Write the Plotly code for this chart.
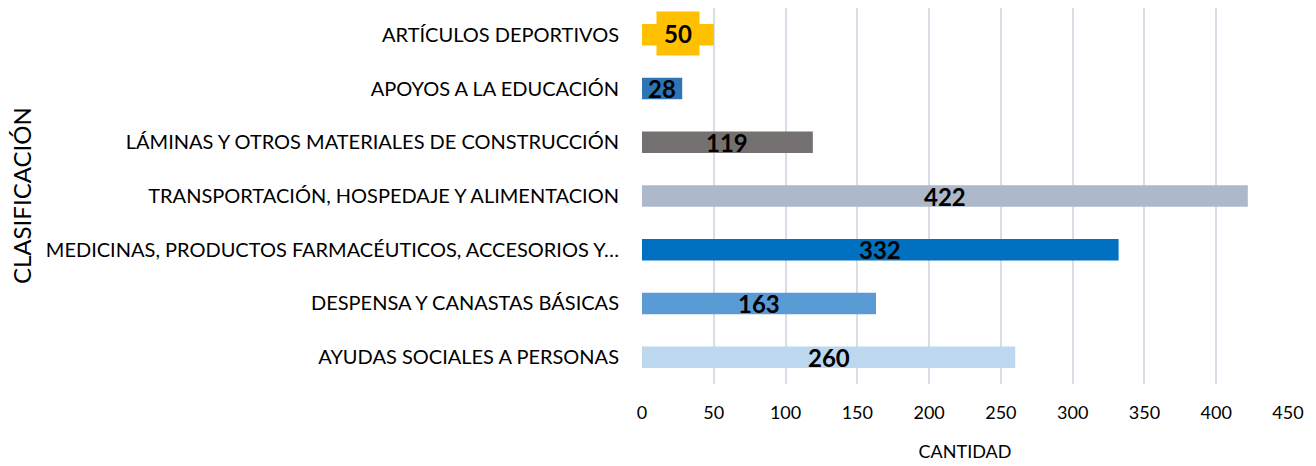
import plotly.graph_objects as go

categories = [
    "AYUDAS SOCIALES A PERSONAS",
    "DESPENSA Y CANASTAS BÁSICAS",
    "MEDICINAS, PRODUCTOS FARMACÉUTICOS, ACCESORIOS Y…",
    "TRANSPORTACIÓN, HOSPEDAJE Y ALIMENTACION",
    "LÁMINAS Y OTROS MATERIALES DE CONSTRUCCIÓN",
    "APOYOS A LA EDUCACIÓN",
    "ARTÍCULOS DEPORTIVOS",
]
values = [260, 163, 332, 422, 119, 28, 50]
colors = ["#BDD7EE", "#5B9BD5", "#0070C0", "#ADB9CA", "#767171", "#2E75B6", "#FFC000"]
x_ticks = [0, 50, 100, 150, 200, 250, 300, 350, 400, 450]

FONT = "Lato"

fig = go.Figure()
fig.add_trace(go.Bar(
    y=categories, x=values, orientation="h",
    marker=dict(color=colors, line=dict(width=0)),
    width=0.4, hoverinfo="x+y",
))

annotations = []
for cat, val, col in zip(categories, values, colors):
    a = dict(x=val / 2, y=cat, xref="x", yref="y", text="<b>%d</b>" % val,
             showarrow=False, yshift=0,
             font=dict(family=FONT, size=24, color="#000000"))
    if cat == "ARTÍCULOS DEPORTIVOS":
        a.update(bgcolor=col, borderpad=7, yshift=1)
    annotations.append(a)

annotations.append(dict(
    text="CLASIFICACIÓN", textangle=-90, showarrow=False,
    xref="paper", yref="paper", x=(21 - 642) / 646, y=0.5,
    xanchor="center", yanchor="middle",
    font=dict(family=FONT, size=24, color="#000000"),
))

fig.update_layout(
    width=1316, height=466,
    margin=dict(l=642, r=28, t=8, b=82, autoexpand=False),
    paper_bgcolor="white", plot_bgcolor="white",
    showlegend=False,
    font=dict(family=FONT, size=17, color="#000000"),
    annotations=annotations,
    xaxis=dict(
        range=[0, 450], tickvals=x_ticks, ticktext=[str(t) for t in x_ticks],
        showgrid=True, gridcolor="#D9DDE8", gridwidth=1.5,
        zeroline=False, showline=False, ticks="",
        tickfont=dict(family=FONT, size=18), ticklabelstandoff=16,
        title=dict(text="CANTIDAD", font=dict(family=FONT, size=18), standoff=23),
        fixedrange=True,
    ),
    yaxis=dict(
        categoryorder="array", categoryarray=categories,
        showgrid=False, zeroline=False, showline=False, ticks="",
        tickfont=dict(family=FONT, size=20), ticklabelstandoff=22,
        automargin=False, fixedrange=True,
    ),
)

fig.write_html("out.html")
